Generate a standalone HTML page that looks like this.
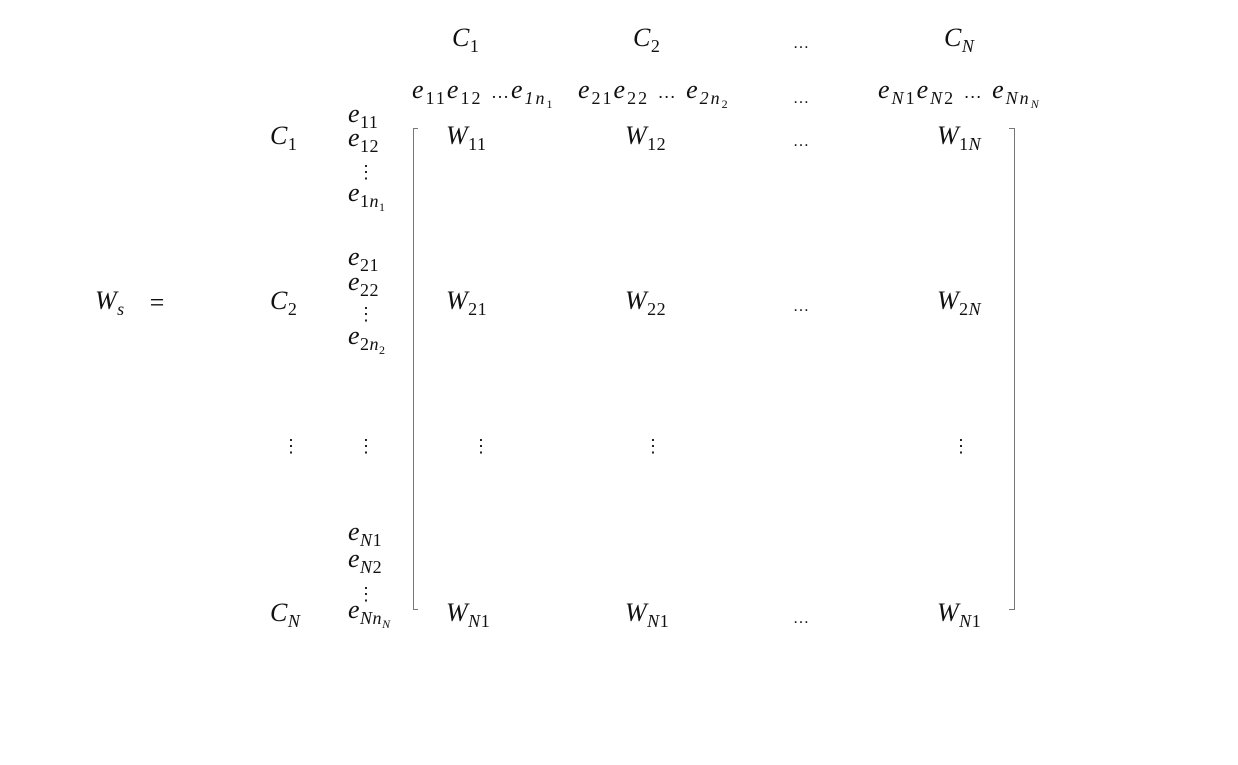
<!DOCTYPE html>
<html><head><meta charset="utf-8"><style>
body{margin:0;width:1238px;height:765px;background:#fff;position:relative;overflow:hidden;font-family:"Liberation Serif",serif;color:#111}
.m{position:absolute;font-size:26px;font-style:italic;line-height:28px;transform:translateY(-50%);white-space:nowrap;letter-spacing:0.5px}
.m sub{font-size:18px;vertical-align:-6px;font-style:italic}
.m sub.u,.m .u{font-style:normal}
.m sub sub{font-size:12px;vertical-align:-4px}
.d{position:absolute;font-size:18px;line-height:20px;transform:translateY(-50%);font-style:normal}
.e{position:absolute;font-size:16px;transform:translateY(-50%);font-style:normal}
.l{position:absolute;background:#777}
.h{letter-spacing:2px}
</style></head><body>
<span class="m" style="left:452px;top:42px">C<sub class="u">1</sub></span>
<span class="m" style="left:633px;top:42px">C<sub class="u">2</sub></span>
<span class="e" style="left:793px;top:44px">…</span>
<span class="m" style="left:944px;top:42px">C<sub>N</sub></span>

<span class="m h" style="left:412px;top:97px">e<sub class="u">11</sub>e<sub class="u">12</sub> <span class="u" style="font-size:18px">…</span>e<sub>1n<sub class="u">1</sub></sub></span>
<span class="m h" style="left:578px;top:97px">e<sub class="u">21</sub>e<sub class="u">22</sub> <span class="u" style="font-size:18px">…</span> e<sub>2n<sub class="u">2</sub></sub></span>
<span class="e" style="left:793px;top:99px">…</span>
<span class="m h" style="left:878px;top:97px">e<sub>N</sub><sub class="u">1</sub>e<sub>N</sub><sub class="u">2</sub> <span class="u" style="font-size:18px">…</span> e<sub>Nn<sub>N</sub></sub></span>

<span class="m" style="left:95px;top:305px">W<sub>s</sub></span>
<span class="m u" style="left:148px;top:303px">=</span>

<span class="m" style="left:270px;top:140px">C<sub class="u">1</sub></span>
<span class="m" style="left:270px;top:305px">C<sub class="u">2</sub></span>
<span class="d" style="left:282px;top:446px">⋮</span>
<span class="m" style="left:270px;top:617px">C<sub>N</sub></span>

<span class="m" style="left:348px;top:118px">e<sub class="u">11</sub></span>
<span class="m" style="left:348px;top:142px">e<sub class="u">12</sub></span>
<span class="d" style="left:357px;top:172px">⋮</span>
<span class="m" style="left:348px;top:200px">e<sub><span class="u">1</span>n<sub class="u">1</sub></sub></span>
<span class="m" style="left:348px;top:261px">e<sub class="u">21</sub></span>
<span class="m" style="left:348px;top:286px">e<sub class="u">22</sub></span>
<span class="d" style="left:357px;top:314px">⋮</span>
<span class="m" style="left:348px;top:343px">e<sub><span class="u">2</span>n<sub class="u">2</sub></sub></span>
<span class="d" style="left:357px;top:446px">⋮</span>
<span class="m" style="left:348px;top:536px">e<sub>N</sub><sub class="u">1</sub></span>
<span class="m" style="left:348px;top:563px">e<sub>N</sub><sub class="u">2</sub></span>
<span class="d" style="left:357px;top:594px">⋮</span>
<span class="m" style="left:348px;top:617px">e<sub>Nn<sub>N</sub></sub></span>

<span class="m" style="left:446px;top:140px">W<sub class="u">11</sub></span>
<span class="m" style="left:625px;top:140px">W<sub class="u">12</sub></span>
<span class="e" style="left:793px;top:142px">…</span>
<span class="m" style="left:937px;top:140px">W<sub class="u">1</sub><sub>N</sub></span>

<span class="m" style="left:446px;top:305px">W<sub class="u">21</sub></span>
<span class="m" style="left:625px;top:305px">W<sub class="u">22</sub></span>
<span class="e" style="left:793px;top:307px">…</span>
<span class="m" style="left:937px;top:305px">W<sub class="u">2</sub><sub>N</sub></span>

<span class="d" style="left:472px;top:446px">⋮</span>
<span class="d" style="left:644px;top:446px">⋮</span>
<span class="d" style="left:952px;top:446px">⋮</span>

<span class="m" style="left:446px;top:617px">W<sub>N</sub><sub class="u">1</sub></span>
<span class="m" style="left:625px;top:617px">W<sub>N</sub><sub class="u">1</sub></span>
<span class="e" style="left:793px;top:619px">…</span>
<span class="m" style="left:937px;top:617px">W<sub>N</sub><sub class="u">1</sub></span>

<div class="l" style="left:413px;top:128px;width:1px;height:482px"></div>
<div class="l" style="left:413px;top:128px;width:5px;height:1px"></div>
<div class="l" style="left:413px;top:609px;width:5px;height:1px"></div>
<div class="l" style="left:1014px;top:128px;width:1px;height:482px"></div>
<div class="l" style="left:1009px;top:128px;width:5px;height:1px"></div>
<div class="l" style="left:1009px;top:609px;width:5px;height:1px"></div>
</body></html>
